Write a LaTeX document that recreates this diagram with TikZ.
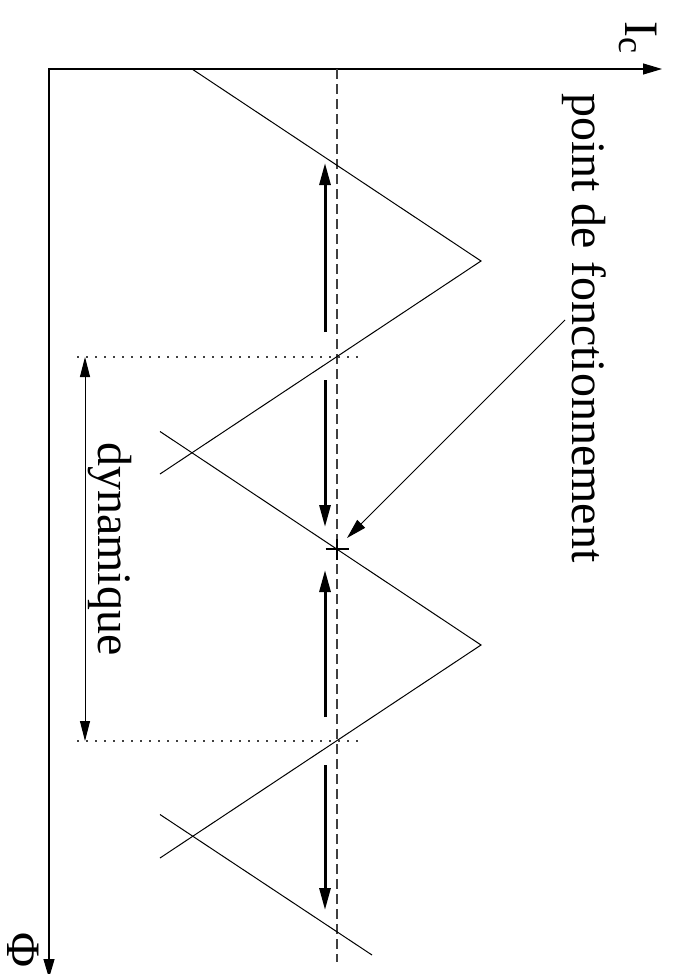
\documentclass[tikz,border=0pt]{standalone}
\usepackage{fontspec}
\setmainfont{Liberation Serif}
\usetikzlibrary{arrows.meta}
\begin{document}
\begin{tikzpicture}[x=1pt,y=-1pt,
  axes/.style={line width=1.2pt,line join=miter,{Triangle[length=19pt,width=11pt]}-{Triangle[length=19pt,width=11pt]}},
  curve/.style={line width=1pt},
  thickarrow/.style={line width=3pt,-{Triangle[length=22pt,width=11pt]}},
  thinarrow/.style={line width=1pt,-{Triangle[length=20pt,width=11pt]}},
  dimarrow/.style={line width=1pt,{Triangle[length=20pt,width=10pt]}-{Triangle[length=20pt,width=10pt]}},
  dashedline/.style={line width=1.1pt,draw=black!75,dash pattern=on 10pt off 5pt},
  dottedline/.style={line width=1.3pt,draw=black!75,dash pattern=on 1.5pt off 7.5pt},
  crossmark/.style={line width=2pt},
  lbl/.style={rotate=-90,inner sep=0pt,font=\fontsize{48}{58}\selectfont}
]
\fill[white] (0,0) rectangle (672,974);
\path[use as bounding box] (0,0) rectangle (672,974);

% axes
\coordinate (O) at (49,69);
\coordinate (Xtip) at (662,69);
\coordinate (Ytip) at (49,978);
\draw[axes] (Xtip) -- (O) -- (Ytip);

% dashed operating line
\coordinate (D1) at (337,69);
\coordinate (D2) at (337,962);
\draw[dashedline] (D1) -- (D2);

% zigzag lines
\coordinate (A0) at (192,69);
\coordinate (A1) at (481,261);
\coordinate (A2) at (160,474);
\coordinate (B0) at (160,431.5);
\coordinate (B1) at (481,645);
\coordinate (B2) at (160,858);
\coordinate (C0) at (160,814.5);
\coordinate (C1) at (372,955);
\draw[curve] (A0) -- (A1) -- (A2);
\draw[curve] (B0) -- (B1) -- (B2);
\draw[curve] (C0) -- (C1);

% dotted limits
\coordinate (L1a) at (77,357);
\coordinate (L1b) at (360,357);
\coordinate (L2a) at (77,741);
\coordinate (L2b) at (360,741);
\draw[dottedline] (L1a) -- (L1b);
\draw[dottedline] (L2a) -- (L2b);

% dynamique arrow
\coordinate (Dy1) at (85,357);
\coordinate (Dy2) at (85,741);
\draw[dimarrow] (Dy1) -- (Dy2);

% thick arrows
\coordinate (T1s) at (325,332); \coordinate (T1e) at (325,163);
\coordinate (T2s) at (325,380); \coordinate (T2e) at (325,527);
\coordinate (T3s) at (325,717); \coordinate (T3e) at (325,570);
\coordinate (T4s) at (325,765); \coordinate (T4e) at (325,910);
\draw[thickarrow] (T1s) -- (T1e);
\draw[thickarrow] (T2s) -- (T2e);
\draw[thickarrow] (T3s) -- (T3e);
\draw[thickarrow] (T4s) -- (T4e);

% operating point cross
\coordinate (P) at (337,549);
\draw[crossmark] ([xshift=-11.5pt]P) -- ([xshift=11.5pt]P);
\draw[crossmark] ([yshift=10pt]P) -- ([yshift=-11pt]P);

% labels
\node[lbl,anchor=base west] (pf) at (572,93) {point de fonctionnement};
\node[lbl,anchor=base west] (dyn) at (98,442) {dynamique};
\node[lbl,anchor=base west] (ic) at (625,21) {I\raisebox{-6pt}{\fontsize{36}{40}\selectfont c}};
\node[lbl,anchor=base west] (phi) at (7,932) {Φ};

% pointer
\coordinate (Ps) at (565,320);
\coordinate (Pe) at (347,538);
\draw[thinarrow] (Ps) -- (Pe);
\end{tikzpicture}
\end{document}
